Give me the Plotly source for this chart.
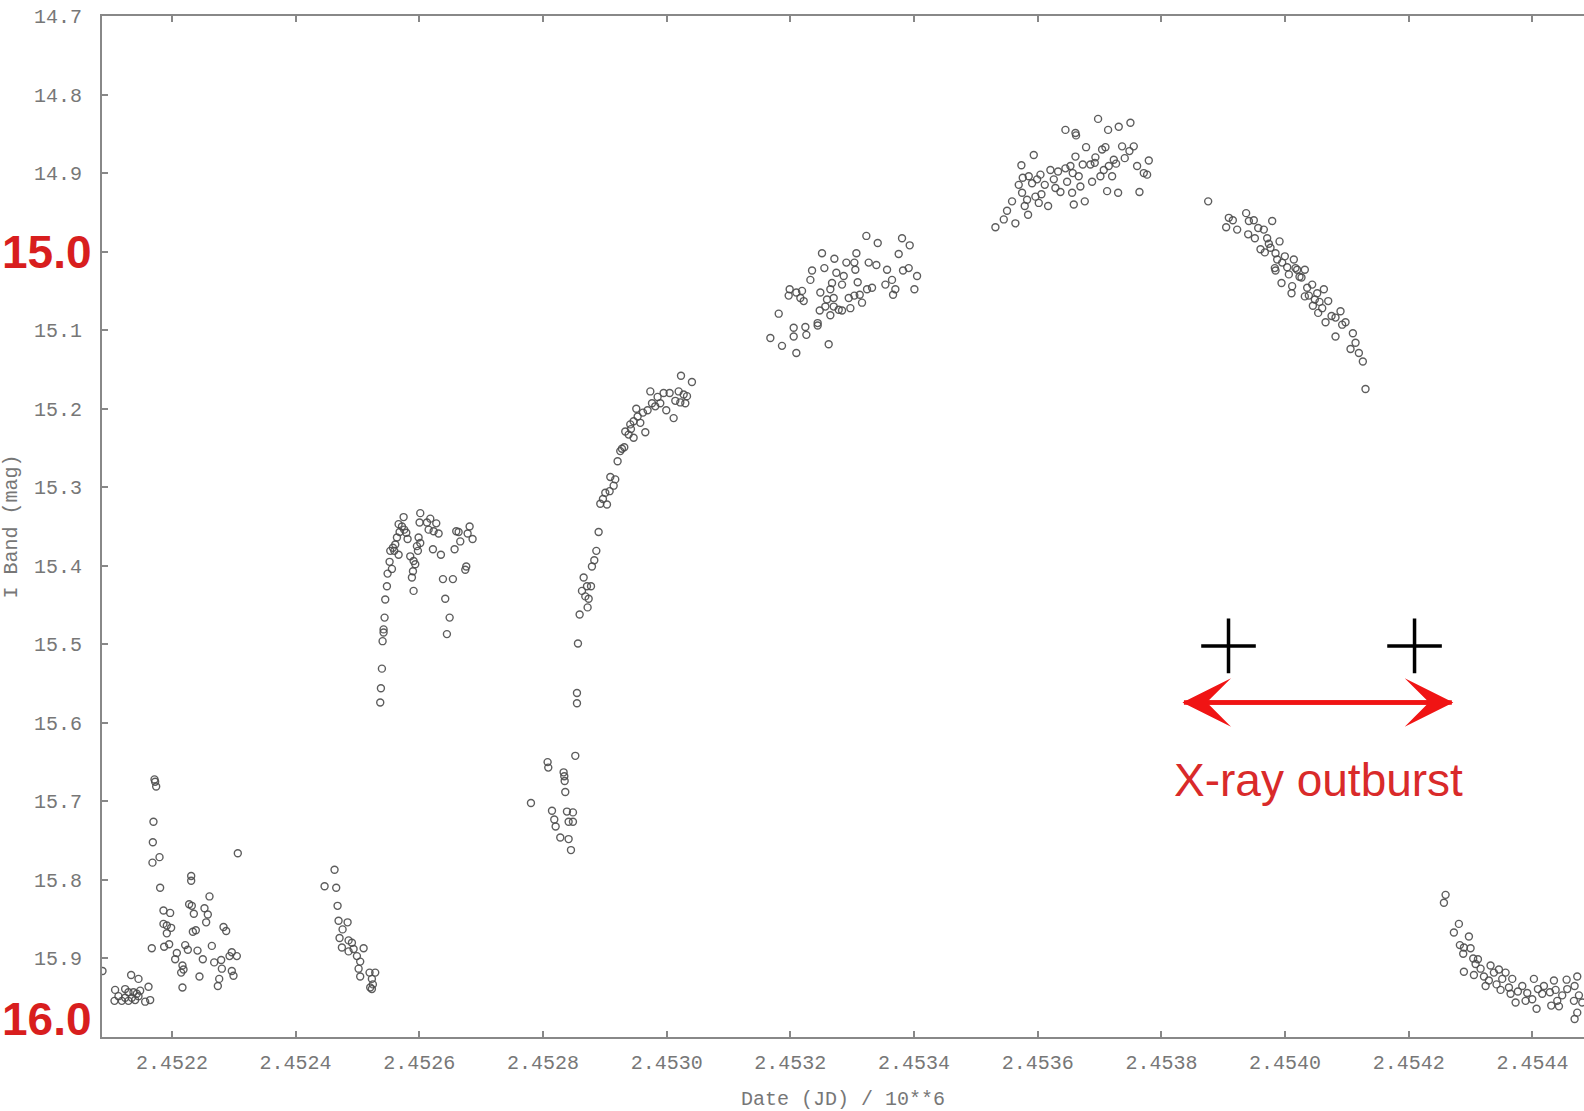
import plotly.graph_objects as go

# ---- axis tick labels ----
x_tick_labels = ["2.4522", "2.4524", "2.4526", "2.4528", "2.4530", "2.4532",
                 "2.4534", "2.4536", "2.4538", "2.4540", "2.4542", "2.4544"]
y_tick_labels = ["14.7", "14.8", "14.9", "15.0", "15.1", "15.2", "15.3",
                 "15.4", "15.5", "15.6", "15.7", "15.8", "15.9", "16.0"]
y_big_labels = ["15.0", "16.0"]  # drawn large and red

# ---- observations: (Julian Date, I-band magnitude) ----
season1 = [
    (2452087.8, 15.916), (2452134.1, 15.921), (2452146.0, 15.926), (2452162.2, 15.936),
    (2452108.2, 15.940), (2452124.4, 15.939), (2452129.8, 15.943), (2452137.9, 15.943),
    (2452143.3, 15.945), (2452148.7, 15.941), (2452113.6, 15.948), (2452124.4, 15.950),
    (2452135.2, 15.950), (2452146.0, 15.948), (2452107.2, 15.954), (2452119.0, 15.954),
    (2452129.8, 15.954), (2452140.6, 15.953), (2452156.8, 15.955), (2452164.9, 15.953),
    (2452171.9, 15.672), (2452172.9, 15.675), (2452174.6, 15.681), (2452170.2, 15.726),
    (2452169.2, 15.752), (2452168.6, 15.778), (2452180.0, 15.771), (2452181.0, 15.810),
    (2452306.6, 15.766), (2452231.2, 15.795), (2452231.2, 15.801), (2452260.8, 15.821),
    (2452227.9, 15.831), (2452232.2, 15.833), (2452235.5, 15.843), (2452252.7, 15.836),
    (2452258.1, 15.844), (2452255.4, 15.854), (2452186.4, 15.839), (2452197.2, 15.842),
    (2452186.4, 15.856), (2452191.8, 15.858), (2452198.8, 15.861), (2452191.8, 15.868),
    (2452233.9, 15.866), (2452238.7, 15.864), (2452283.5, 15.860), (2452287.8, 15.865),
    (2452167.5, 15.887), (2452187.5, 15.885), (2452195.6, 15.882), (2452208.0, 15.893),
    (2452205.3, 15.901), (2452221.5, 15.883), (2452225.8, 15.889), (2452241.4, 15.890),
    (2452264.6, 15.884), (2452250.0, 15.901), (2452217.1, 15.909), (2452215.0, 15.918),
    (2452218.8, 15.914), (2452268.4, 15.905), (2452279.7, 15.902), (2452280.8, 15.913),
    (2452293.2, 15.897), (2452296.9, 15.892), (2452305.0, 15.897), (2452296.9, 15.916),
    (2452299.6, 15.922), (2452244.6, 15.923), (2452217.1, 15.937), (2452276.5, 15.926),
    (2452274.3, 15.935),
]

season2 = [
    (2452463.0, 15.787), (2452446.9, 15.808), (2452465.7, 15.810), (2452467.9, 15.833),
    (2452469.5, 15.852), (2452484.1, 15.854), (2452476.0, 15.863), (2452471.1, 15.874),
    (2452485.7, 15.877), (2452491.1, 15.880), (2452474.9, 15.886), (2452485.7, 15.891),
    (2452493.8, 15.888), (2452510.0, 15.887), (2452499.2, 15.897), (2452504.5, 15.904),
    (2452501.9, 15.913), (2452504.5, 15.923), (2452519.6, 15.918), (2452528.8, 15.918),
    (2452523.4, 15.926), (2452525.0, 15.933), (2452523.4, 15.939), (2452520.7, 15.937),
    (2452536.9, 15.574), (2452538.0, 15.556), (2452539.6, 15.531), (2452540.7, 15.496),
    (2452542.3, 15.485), (2452542.3, 15.481), (2452543.9, 15.466), (2452545.0, 15.443),
    (2452547.7, 15.426), (2452548.8, 15.410), (2452552.0, 15.395), (2452555.8, 15.404),
    (2452553.1, 15.381), (2452557.4, 15.377), (2452559.6, 15.381), (2452561.2, 15.373),
    (2452563.9, 15.364), (2452568.2, 15.357), (2452566.6, 15.347), (2452572.0, 15.350),
    (2452574.7, 15.338), (2452575.7, 15.354), (2452579.0, 15.358), (2452581.1, 15.366),
    (2452566.6, 15.386), (2452585.4, 15.388), (2452590.8, 15.394), (2452593.5, 15.398),
    (2452589.8, 15.407), (2452588.1, 15.415), (2452590.8, 15.432), (2452596.2, 15.375),
    (2452598.9, 15.364), (2452601.6, 15.371), (2452597.8, 15.381), (2452601.6, 15.333),
    (2452600.5, 15.345), (2452612.4, 15.345), (2452617.8, 15.340), (2452615.1, 15.354),
    (2452623.2, 15.356), (2452627.5, 15.346), (2452631.3, 15.359), (2452622.1, 15.379),
    (2452635.0, 15.386), (2452638.3, 15.417), (2452654.4, 15.417), (2452642.0, 15.442),
    (2452649.1, 15.466), (2452644.7, 15.487), (2452657.1, 15.379), (2452666.3, 15.369),
    (2452659.8, 15.356), (2452663.6, 15.357), (2452681.4, 15.350), (2452678.2, 15.359),
    (2452686.2, 15.366), (2452674.4, 15.405), (2452676.0, 15.401),
]

season3 = [
    (2452780.6, 15.702), (2452807.5, 15.650), (2452808.6, 15.657), (2452833.4, 15.663),
    (2452834.5, 15.668), (2452835.1, 15.674), (2452836.1, 15.688), (2452852.3, 15.642),
    (2452814.6, 15.712), (2452818.3, 15.723), (2452820.5, 15.732), (2452838.8, 15.713),
    (2452848.5, 15.714), (2452841.5, 15.726), (2452848.5, 15.726), (2452828.0, 15.746),
    (2452841.5, 15.748), (2452845.3, 15.762),
    (2452855.0, 15.575), (2452855.0, 15.562), (2452856.6, 15.499), (2452859.3, 15.462),
    (2452865.8, 15.415), (2452871.2, 15.426), (2452863.1, 15.432), (2452868.5, 15.439),
    (2452872.2, 15.453), (2452873.9, 15.442), (2452877.7, 15.426), (2452879.2, 15.401),
    (2452883.0, 15.393), (2452886.3, 15.381), (2452890.0, 15.357),
    (2452892.7, 15.321), (2452903.5, 15.322), (2452897.0, 15.315), (2452900.8, 15.307),
    (2452907.8, 15.305), (2452908.9, 15.287), (2452916.9, 15.290), (2452914.3, 15.298),
    (2452920.7, 15.267), (2452925.0, 15.254), (2452931.5, 15.249), (2452927.7, 15.251),
    (2452933.1, 15.229), (2452938.5, 15.233), (2452942.3, 15.226), (2452946.6, 15.237),
    (2452941.2, 15.220), (2452946.6, 15.216), (2452953.1, 15.210), (2452950.9, 15.200),
    (2452957.4, 15.218), (2452961.7, 15.205), (2452965.5, 15.230), (2452969.2, 15.202),
    (2452973.6, 15.178), (2452976.3, 15.193), (2452981.6, 15.197), (2452985.4, 15.185),
    (2452989.7, 15.193), (2452995.1, 15.180), (2452999.4, 15.202), (2453004.8, 15.180),
    (2453011.3, 15.212), (2453014.0, 15.190), (2453019.4, 15.178), (2453022.1, 15.192),
    (2453030.2, 15.193), (2453032.9, 15.184), (2453023.2, 15.158), (2453040.9, 15.166),
    (2453027.5, 15.182),
]

season4 = [
    (2453167.7, 15.110), (2453186.5, 15.120), (2453209.7, 15.129), (2453181.2, 15.079),
    (2453205.4, 15.097), (2453224.3, 15.096), (2453205.4, 15.108), (2453225.9, 15.106),
    (2453244.2, 15.094), (2453244.2, 15.091), (2453262.0, 15.118), (2453198.9, 15.048),
    (2453197.3, 15.056), (2453209.7, 15.052), (2453218.9, 15.050), (2453216.2, 15.059),
    (2453221.6, 15.063), (2453232.4, 15.036), (2453235.1, 15.024), (2453248.5, 15.052),
    (2453251.2, 15.002), (2453255.0, 15.021), (2453264.7, 15.048), (2453267.4, 15.040),
    (2453271.2, 15.009), (2453274.4, 15.027), (2453286.3, 15.031), (2453283.6, 15.042),
    (2453290.6, 15.014), (2453303.5, 15.014), (2453306.8, 15.002), (2453305.1, 15.023),
    (2453308.9, 15.039), (2453247.5, 15.075), (2453256.6, 15.070), (2453264.7, 15.081),
    (2453270.1, 15.059), (2453278.2, 15.074), (2453283.6, 15.075), (2453297.1, 15.072),
    (2453294.4, 15.059), (2453303.5, 15.056), (2453312.2, 15.055), (2453315.9, 15.065),
    (2453324.0, 15.048), (2453332.1, 15.046), (2453326.7, 15.014), (2453339.1, 15.017),
    (2453322.9, 14.980), (2453341.3, 14.989), (2453356.4, 15.023), (2453353.7, 15.042),
    (2453364.4, 15.036), (2453369.8, 15.048), (2453366.1, 15.055), (2453380.6, 14.983),
    (2453393.0, 14.992), (2453375.2, 15.003), (2453382.2, 15.024), (2453391.4, 15.021),
    (2453404.9, 15.031), (2453400.6, 15.048), (2453270.1, 15.070), (2453259.3, 15.061),
]

season5 = [
    (2453531.6, 14.969), (2453545.1, 14.959), (2453563.9, 14.964), (2453550.4, 14.948),
    (2453558.5, 14.936), (2453569.3, 14.915), (2453574.7, 14.925), (2453579.0, 14.942),
    (2453582.8, 14.934), (2453584.4, 14.953), (2453573.6, 14.890), (2453593.6, 14.877),
    (2453575.8, 14.906), (2453585.5, 14.904), (2453590.9, 14.913), (2453599.0, 14.908),
    (2453604.4, 14.902), (2453596.3, 14.930), (2453601.7, 14.938), (2453606.0, 14.927),
    (2453616.8, 14.942), (2453611.4, 14.915), (2453620.5, 14.896), (2453626.0, 14.908),
    (2453632.9, 14.898), (2453628.6, 14.919), (2453636.7, 14.924), (2453644.8, 14.894),
    (2453647.5, 14.911), (2453655.6, 14.925), (2453658.3, 14.940), (2453656.6, 14.900),
    (2453652.9, 14.891), (2453666.3, 14.904), (2453669.0, 14.917), (2453676.1, 14.936),
    (2453661.0, 14.879), (2453672.8, 14.889), (2453678.2, 14.867), (2453685.2, 14.889),
    (2453692.2, 14.887), (2453687.9, 14.911), (2453701.4, 14.904), (2453693.3, 14.880),
    (2453704.1, 14.870), (2453709.5, 14.867), (2453706.8, 14.896), (2453714.9, 14.891),
    (2453720.3, 14.904), (2453712.2, 14.923), (2453730.0, 14.925), (2453723.0, 14.883),
    (2453726.7, 14.888), (2453736.4, 14.866), (2453740.7, 14.881), (2453748.3, 14.872),
    (2453755.3, 14.866), (2453760.7, 14.891), (2453764.5, 14.924), (2453771.5, 14.900),
    (2453776.9, 14.902), (2453779.6, 14.884), (2453644.8, 14.845), (2453661.0, 14.849),
    (2453662.0, 14.852), (2453697.6, 14.831), (2453713.8, 14.845), (2453731.0, 14.841),
    (2453749.9, 14.836),
]

season6 = [
    (2453875.6, 14.936), (2453909.0, 14.957), (2453904.7, 14.969), (2453915.5, 14.960),
    (2453922.5, 14.972), (2453937.0, 14.951), (2453941.4, 14.961), (2453949.4, 14.960),
    (2453940.3, 14.978), (2453951.1, 14.983), (2453956.5, 14.970), (2453965.6, 14.972),
    (2453979.1, 14.961), (2453971.0, 14.983), (2453973.7, 14.990), (2453960.2, 14.997),
    (2453967.2, 15.001), (2453976.4, 14.995), (2453984.5, 15.002), (2453991.0, 14.987),
    (2453987.2, 15.010), (2453999.6, 15.006), (2453983.4, 15.021), (2453984.5, 15.024),
    (2454003.4, 15.020), (2454014.1, 15.010), (2454006.1, 15.029), (2453994.2, 15.040),
    (2454011.4, 15.044), (2454010.4, 15.053), (2454019.5, 15.023), (2454026.5, 15.033),
    (2454031.9, 15.023), (2454023.3, 15.032), (2454035.7, 15.046), (2454043.8, 15.042),
    (2454031.9, 15.057), (2454038.4, 15.056), (2454048.1, 15.061), (2454044.9, 15.069),
    (2454055.6, 15.064), (2454053.5, 15.078), (2454062.7, 15.048), (2454069.7, 15.063),
    (2454060.0, 15.072), (2454065.4, 15.090), (2454075.1, 15.082), (2454081.5, 15.084),
    (2454089.6, 15.076), (2454097.7, 15.090), (2454092.3, 15.093), (2454081.5, 15.108),
    (2454109.6, 15.104), (2454113.9, 15.116), (2454105.8, 15.124), (2454119.3, 15.129),
    (2454125.7, 15.140), (2454130.0, 15.175), (2454051.9, 15.053), (2453995.3, 15.014),
    (2454016.8, 15.021),
]

season7 = [
    (2454259.5, 15.819), (2454256.8, 15.829), (2454281.0, 15.856), (2454272.9, 15.867),
    (2454297.2, 15.872), (2454282.6, 15.883), (2454289.1, 15.886), (2454299.9, 15.887),
    (2454288.0, 15.894), (2454304.2, 15.900), (2454311.8, 15.901), (2454308.0, 15.907),
    (2454289.1, 15.917), (2454305.3, 15.921), (2454316.1, 15.913), (2454321.5, 15.923),
    (2454332.2, 15.909), (2454337.6, 15.918), (2454345.7, 15.914), (2454329.5, 15.928),
    (2454341.9, 15.933), (2454351.1, 15.926), (2454348.4, 15.940), (2454361.9, 15.937),
    (2454367.3, 15.926), (2454364.6, 15.945), (2454376.4, 15.942), (2454372.7, 15.956),
    (2454383.5, 15.935), (2454391.5, 15.944), (2454402.3, 15.926), (2454399.6, 15.952),
    (2454408.8, 15.939), (2454415.8, 15.945), (2454406.6, 15.964), (2454418.5, 15.935),
    (2454428.2, 15.943), (2454434.7, 15.928), (2454437.4, 15.940), (2454440.1, 15.954),
    (2454430.4, 15.960), (2454442.8, 15.961), (2454448.1, 15.947), (2454455.2, 15.927),
    (2454456.2, 15.939), (2454472.4, 15.923), (2454468.1, 15.935), (2454475.1, 15.947),
    (2454467.0, 15.954), (2454480.5, 15.956), (2454472.4, 15.969), (2454468.1, 15.977),
    (2454356.5, 15.918), (2454324.2, 15.935), (2454388.8, 15.954),
]

# ---- X-ray outburst markers (JD, mag) ----
outburst_jd = [2453908.5, 2454209.3]
outburst_mag = [15.502, 15.502]
arrow_jd = [2453834.0, 2454272.0]
arrow_mag = 15.574
label_jd = 2454054.0
label_mag = 15.673

SCALE = 1e6  # Date (JD) / 10**6

fig = go.Figure()
for season in [season1, season2, season3, season4, season5, season6, season7]:
    fig.add_trace(go.Scatter(
        x=[jd / SCALE for jd, m in season],
        y=[m for jd, m in season],
        mode="markers",
        marker=dict(symbol="circle-open", size=7,
                    color="rgba(75,75,75,0.9)", line=dict(width=1.4)),
        hoverinfo="x+y",
    ))

fig.add_trace(go.Scatter(
    x=[jd / SCALE for jd in outburst_jd], y=outburst_mag, mode="markers",
    marker=dict(symbol="cross-thin", size=39, color="black",
                line=dict(width=3.5, color="black")),
))

# double-headed arrow: two overlapping single-headed arrows
for tip, tail in [(arrow_jd[0], arrow_jd[1]), (arrow_jd[1], arrow_jd[0])]:
    fig.add_annotation(
        x=tip / SCALE, y=arrow_mag, ax=tail / SCALE, ay=arrow_mag,
        xref="x", yref="y", axref="x", ayref="y", text="",
        showarrow=True, arrowhead=3, arrowsize=1.8, arrowwidth=4.5,
        arrowcolor="#f01414", standoff=0, startstandoff=0,
    )

fig.add_annotation(
    x=label_jd / SCALE, y=label_mag, xref="x", yref="y",
    text="X-ray outburst", showarrow=False,
    font=dict(family="Liberation Sans", size=46, color="#d92a2a"),
)

# big red magnitude labels
for lab, shift in zip(y_big_labels, [0, 18]):
    fig.add_annotation(
        x=-102 / 1482, y=float(lab), xref="paper", yref="y",
        xanchor="left", yanchor="middle", yshift=shift,
        text="<b>%s</b>" % lab, showarrow=False,
        font=dict(family="Liberation Sans", size=46, color="#d81e1e"),
    )

# y-axis title at the far left edge
fig.add_annotation(
    x=-91 / 1482, y=0.5, xref="paper", yref="paper",
    text="I Band (mag)", textangle=-90, showarrow=False,
    xanchor="center", yanchor="middle",
    font=dict(family="Liberation Mono", size=20, color="#777777"),
)

mono = dict(family="Liberation Mono", size=20, color="#777777")
fig.update_xaxes(
    range=[2.452087, 2.4544833],
    tickvals=[float(t) for t in x_tick_labels], ticktext=x_tick_labels,
    ticks="inside", ticklen=6, tickwidth=1.5, tickcolor="#888888",
    showline=True, linecolor="#888888", linewidth=2, mirror="allticks",
    showgrid=False, zeroline=False, tickfont=mono, ticklabelstandoff=6,
    title=dict(text="Date (JD) / 10**6", font=mono, standoff=19),
)
fig.update_yaxes(
    range=[16.0, 14.7],
    tickvals=[float(t) for t in y_tick_labels],
    ticktext=["" if t in y_big_labels else t for t in y_tick_labels],
    ticks="inside", ticklen=6, tickwidth=1.5, tickcolor="#888888",
    showline=True, linecolor="#888888", linewidth=2, mirror=False,
    showgrid=False, zeroline=False, tickfont=mono, ticklabelstandoff=14,
)
fig.update_layout(
    width=1584, height=1111,
    margin=dict(l=102, r=0, t=16, b=74),
    paper_bgcolor="white", plot_bgcolor="white",
    showlegend=False,
)
fig.write_html("out.html")
